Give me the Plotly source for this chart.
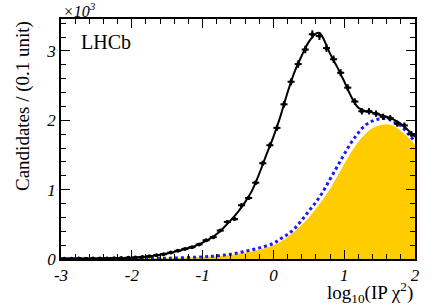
import numpy as np
import plotly.graph_objects as go

# Data: bin centres of log10(IP chi2), candidates per 0.1 unit
bin_centres = [round(-2.95 + 0.1 * i, 2) for i in range(50)]
counts = [5, 4, 6, 5, 7, 8, 9, 12, 14, 18,
          22, 30, 40, 55, 70, 92, 118, 145, 170, 210,
          270, 315, 410, 535, 575, 775, 880, 1100, 1380, 1640,
          1890, 2230, 2555, 2810, 3020, 3240, 3215, 3040, 2880, 2685,
          2470, 2270, 2130, 2130, 2095, 2050, 2030, 1950, 1925, 1800]
bin_half_width = [0.05] * 50

# Total fit curve
fit_x = [-3.0, -2.5, -2.0, -1.9, -1.8, -1.7, -1.6, -1.5, -1.4, -1.3, -1.2, -1.1,
         -1.0, -0.9, -0.8, -0.7, -0.6, -0.5, -0.4, -0.3, -0.2, -0.1, 0.0, 0.1,
         0.2, 0.3, 0.4, 0.5, 0.6, 0.65, 0.7, 0.8, 0.9, 1.0, 1.1, 1.2, 1.3, 1.4,
         1.5, 1.6, 1.7, 1.8, 1.9, 2.0]
fit_total = [5, 7, 18, 25, 33, 45, 60, 80, 103, 130, 158, 190,
             235, 290, 360, 455, 560, 680, 820, 990, 1230, 1500, 1760, 2060,
             2400, 2700, 2930, 3130, 3250, 3260, 3190, 2960, 2770, 2560, 2340, 2180, 2130, 2110,
             2080, 2050, 2010, 1950, 1860, 1760]

# Background components
bkg_x = [-3.0, -2.0, -1.5, -1.0, -0.8, -0.6, -0.4, -0.2, 0.0, 0.1, 0.2, 0.3, 0.4,
         0.5, 0.6, 0.7, 0.8, 0.9, 1.0, 1.1, 1.2, 1.3, 1.4, 1.5, 1.6, 1.7, 1.8, 1.9, 2.0]
bkg_total = [2, 5, 12, 30, 45, 70, 110, 160, 225, 290, 355, 440, 560,
             690, 820, 970, 1150, 1330, 1510, 1680, 1820, 1930, 1990, 2020, 2025, 1990, 1920, 1810, 1690]
bkg_yellow = [0, 3, 8, 20, 32, 50, 85, 125, 190, 240, 310, 390, 485,
              590, 715, 850, 1000, 1175, 1355, 1530, 1680, 1800, 1880, 1920, 1935, 1910, 1840, 1750, 1640]

fig = go.Figure()

fig.add_trace(go.Scatter(x=bkg_x, y=bkg_yellow, mode="lines", fill="tozeroy",
                         fillcolor="#ffcc00", line=dict(color="#ffcc00", width=1, shape="spline"),
                         hoverinfo="skip", showlegend=False))
fig.add_trace(go.Scatter(x=bkg_x, y=bkg_total, mode="lines",
                         line=dict(color="#1a1aff", width=3, dash="dot", shape="spline"),
                         showlegend=False))
fig.add_trace(go.Scatter(x=fit_x, y=fit_total, mode="lines",
                         line=dict(color="black", width=2, shape="spline"),
                         showlegend=False))
errs = list(np.sqrt(np.array(counts, dtype=float)))
fig.add_trace(go.Scatter(x=bin_centres, y=counts, mode="markers",
                         marker=dict(color="black", size=4),
                         error_y=dict(type="data", array=errs, color="black", thickness=2, width=0),
                         error_x=dict(type="data", array=bin_half_width, color="black", thickness=2, width=0),
                         showlegend=False))

tickfont = dict(family="Liberation Serif", size=17, color="black")

fig.update_layout(
    width=432, height=305,
    margin=dict(l=61, r=14, t=19, b=46),
    paper_bgcolor="white", plot_bgcolor="white",
    xaxis=dict(range=[-3, 2], tickvals=[-3, -2, -1, 0, 1, 2],
               ticktext=["<i>-3</i>", "<i>-2</i>", "<i>-1</i>", "<i>0</i>", "<i>1</i>", "<i>2</i>"],
               ticks="inside", ticklen=9, tickwidth=1.3, tickcolor="black",
               minor=dict(dtick=0.2, tick0=-3, ticks="inside", ticklen=5, tickwidth=1, tickcolor="black"),
               showline=True, linecolor="black", linewidth=1.5, mirror="ticks",
               showgrid=False, zeroline=False, tickfont=tickfont),
    yaxis=dict(range=[0, 3460], tickvals=[0, 1000, 2000, 3000],
               ticktext=["<i>0</i>", "<i>1</i>", "<i>2</i>", "<i>3</i>"],
               ticks="inside", ticklen=9, tickwidth=1.3, tickcolor="black",
               minor=dict(dtick=200, tick0=0, ticks="inside", ticklen=5, tickwidth=1, tickcolor="black"),
               showline=True, linecolor="black", linewidth=1.5, mirror="ticks",
               showgrid=False, zeroline=False, tickfont=tickfont),
    font=dict(family="Liberation Serif", color="black"),
)

fig.add_annotation(x=0, y=1, xref="paper", yref="paper", xanchor="left", yanchor="bottom",
                   text="<i>×10<sup>3</sup></i>", showarrow=False, yshift=-3,
                   font=dict(family="Liberation Serif", size=16, color="black"))
fig.add_annotation(x=0.05, y=0.96, xref="paper", yref="paper", xanchor="left", yanchor="top",
                   text="LHCb", showarrow=False,
                   font=dict(family="Liberation Serif", size=20, color="black"))
fig.add_annotation(x=1, y=0, xref="paper", yref="paper", xanchor="right", yanchor="top",
                   text="log<sub>10</sub>(IP χ<sup>2</sup>)", showarrow=False, yshift=-18,
                   font=dict(family="Liberation Serif", size=19, color="black"))
fig.add_annotation(x=0, y=1, xref="paper", yref="paper", xanchor="center", yanchor="top",
                   text="Candidates / (0.1 unit)", showarrow=False, textangle=-90, xshift=-38,
                   font=dict(family="Liberation Serif", size=19, color="black"))

fig.write_html("out.html", config={"displayModeBar": False},
               post_script="document.body.style.margin='0';document.body.style.overflow='hidden';")
